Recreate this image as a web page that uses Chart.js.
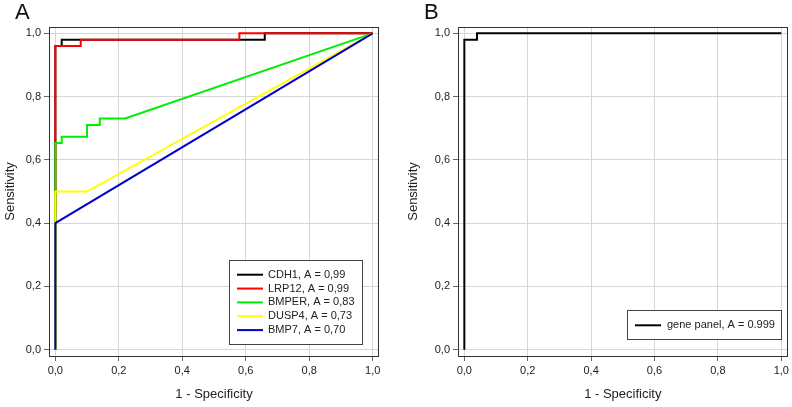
<!DOCTYPE html>
<html><head><meta charset="utf-8">
<script src="https://cdn.jsdelivr.net/npm/chart.js@4/dist/chart.umd.min.js"></script>
<style>
body{margin:0;background:#fff;width:792px;height:407px;overflow:hidden;position:relative;font-family:"Liberation Sans",Arial,sans-serif}
.p{position:absolute;top:0;width:396px;height:407px}
.lt{position:absolute;font-size:22px;color:#111;top:-1px;line-height:25px}
</style></head><body>
<div class="p" style="left:0"><canvas id="a" width="396" height="407"></canvas></div>
<div class="p" style="left:396px"><canvas id="b" width="396" height="407"></canvas></div>
<div class="lt" style="left:15px">A</div>
<div class="lt" style="left:424px">B</div>
<script>
// ---- data ----
const tickValues = [0, 0.2, 0.4, 0.6, 0.8, 1.0];
const xTitle = "1 - Specificity";
const yTitle = "Sensitivity";

const cdh1Fpr = [0, 0, 0.02, 0.02, 0.66, 0.66, 1];
const cdh1Tpr = [0, 0.96, 0.96, 0.98, 0.98, 1, 1];
const lrp12Fpr = [0, 0, 0.08, 0.08, 0.58, 0.58, 1];
const lrp12Tpr = [0, 0.96, 0.96, 0.98, 0.98, 1, 1];
const bmperFpr = [0, 0, 0.02, 0.02, 0.10, 0.10, 0.14, 0.14, 0.22, 1];
const bmperTpr = [0, 0.653, 0.653, 0.673, 0.673, 0.710, 0.710, 0.731, 0.731, 1];
const dusp4Fpr = [0, 0, 0.10, 1];
const dusp4Tpr = [0, 0.50, 0.50, 1];
const bmp7Fpr = [0, 0, 1];
const bmp7Tpr = [0, 0.40, 1];
const panelFpr = [0, 0, 0.04, 0.04, 1];
const panelTpr = [0, 0.98, 0.98, 1, 1];

const labelsA = ["CDH1, A = 0,99", "LRP12, A = 0,99", "BMPER, A = 0,83", "DUSP4, A = 0,73", "BMP7, A = 0,70"];
const labelsB = ["gene panel, A = 0.999"];
const colorsA = ["#000000", "#ff0000", "#00ee00", "#ffff00", "#0000cc"];

const pts = (xs, ys) => xs.map((x, i) => ({x: x, y: ys[i]}));
const FONT = '"Liberation Sans", Arial, sans-serif';

const framePlugin = {
  id: 'frameLegend',
  afterDraw(chart, args, opts) {
    const ctx = chart.ctx, a = chart.chartArea;
    ctx.save();
    ctx.strokeStyle = '#333';
    ctx.lineWidth = 1;
    ctx.strokeRect(Math.round(a.left) + 0.5, Math.round(a.top) + 0.5, Math.round(a.right - a.left) - 1, Math.round(a.bottom - a.top));
    // legend
    const L = opts;
    ctx.fillStyle = '#fff';
    ctx.fillRect(L.x, L.y, L.w, L.h);
    ctx.strokeStyle = '#444';
    ctx.strokeRect(L.x + 0.5, L.y + 0.5, L.w, L.h);
    ctx.font = '11px ' + FONT;
    ctx.textBaseline = 'middle';
    chart.data.datasets.forEach((ds, i) => {
      const y = L.y0 + i * L.rowH;
      ctx.strokeStyle = ds.borderColor;
      ctx.lineWidth = 2;
      ctx.beginPath();
      ctx.moveTo(L.lx0, y); ctx.lineTo(L.lx1, y);
      ctx.stroke();
      ctx.fillStyle = '#222';
      ctx.fillText(ds.label, L.tx, y);
    });
    ctx.restore();
  }
};

function makeChart(id, datasets, yWidth, padRight, titlePad, legend) {
  const fmt = v => v.toFixed(1).replace('.', ',');
  return new Chart(document.getElementById(id), {
    type: 'scatter',
    data: {datasets: datasets},
    plugins: [framePlugin],
    options: {
      responsive: false, animation: false, devicePixelRatio: 1,
      layout: {padding: {top: 27, right: padRight, bottom: 0, left: 0}},
      plugins: {legend: {display: false}, tooltip: {enabled: false}, frameLegend: legend},
      elements: {point: {radius: 0}, line: {borderWidth: 2, tension: 0}},
      scales: {
        x: {
          type: 'linear', min: -0.02, max: 1.02,
          afterBuildTicks: s => { s.ticks = tickValues.map(v => ({value: v})); },
          afterFit: s => { s.height = 51; },
          grid: {color: '#d6d6d6', lineWidth: 1, tickLength: 5, tickColor: '#666'},
          border: {display: false},
          ticks: {callback: fmt, color: '#222', font: {size: 11, family: FONT}, padding: 3, maxRotation: 0},
          title: {display: true, text: xTitle, color: '#222', font: {size: 13, family: FONT}, padding: {top: 0, bottom: 5}}
        },
        y: {
          type: 'linear', min: -0.02, max: 1.02,
          afterBuildTicks: s => { s.ticks = tickValues.map(v => ({value: v})); },
          afterFit: s => { s.width = yWidth; },
          grid: {color: '#d6d6d6', lineWidth: 1, tickLength: 5, tickColor: '#666'},
          border: {display: false},
          ticks: {callback: fmt, color: '#222', font: {size: 11, family: FONT}, padding: 3},
          title: {display: true, text: yTitle, color: '#222', font: {size: 13, family: FONT}, padding: {top: titlePad, bottom: 0}}
        }
      }
    }
  });
}

const seriesA = [[cdh1Fpr, cdh1Tpr], [lrp12Fpr, lrp12Tpr], [bmperFpr, bmperTpr], [dusp4Fpr, dusp4Tpr], [bmp7Fpr, bmp7Tpr]];
const dsA = seriesA.map((s, i) => ({
  label: labelsA[i], data: pts(s[0], s[1]), showLine: true,
  borderColor: colorsA[i], backgroundColor: colorsA[i], borderWidth: 2, pointRadius: 0,
  order: seriesA.length - i
}));
makeChart('a', dsA, 49, 17, 3, {x: 229, y: 260, w: 133, h: 84, y0: 274.7, rowH: 13.85, lx0: 237, lx1: 263, tx: 268});

const dsB = [{label: labelsB[0], data: pts(panelFpr, panelTpr), showLine: true,
  borderColor: '#000000', backgroundColor: '#000000', borderWidth: 2, pointRadius: 0}];
makeChart('b', dsB, 62, 4, 10, {x: 231, y: 310, w: 154, h: 29, y0: 325.3, rowH: 13.85, lx0: 239, lx1: 265, tx: 271});
</script>
</body></html>
